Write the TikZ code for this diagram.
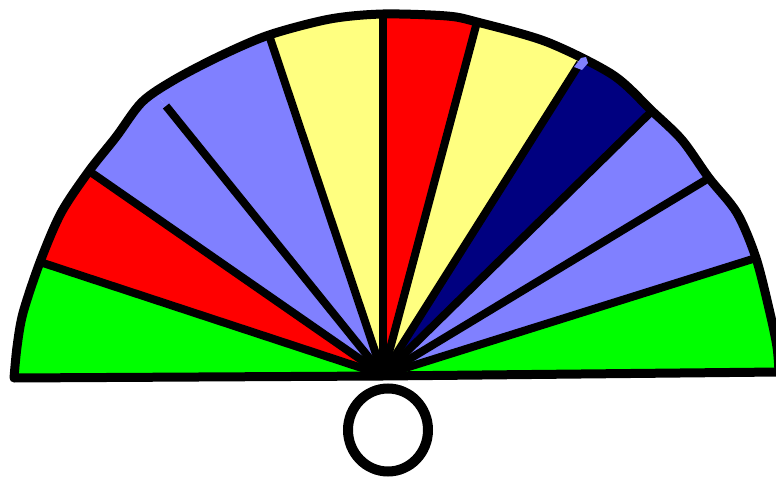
\documentclass[tikz,border=0pt]{standalone}
\usetikzlibrary{calc}
\definecolor{pgreen}{RGB}{0,255,0}
\definecolor{pred}{RGB}{255,0,0}
\definecolor{pblue}{RGB}{128,128,255}
\definecolor{pyellow}{RGB}{255,255,128}
\definecolor{pnavy}{RGB}{0,0,128}
\begin{document}
\begin{tikzpicture}[x=1pt,y=-1pt,
  radial/.style={line width=8pt},
  outline/.style={line width=9pt, line join=round},
  ring/.style={line width=10pt}]
\useasboundingbox (0,0) rectangle (776,478);
\coordinate (C) at (383,375);
\coordinate (L0) at (14,378);
\coordinate (B1) at (40,262);
\coordinate (B2) at (89,171);
\coordinate (B3) at (166,106);
\coordinate (B4) at (269,35);
\coordinate (B5) at (383,14);
\coordinate (B6) at (477,22);
\coordinate (B7) at (580,63);
\coordinate (B8) at (652,111);
\coordinate (B9) at (709,178);
\coordinate (B10) at (756,258);
\coordinate (R0) at (779,372);
\def\arcpath{plot[smooth] coordinates {(14,378) (17,347) (23,313) (40,262) (61,213) (89,171) (116,137) (142,102) (174,80) (220,56) (269,35) (330,19) (383,14) (447,16) (477,22) (547,42) (613,75) (652,111) (682,140) (709,178) (737,213) (756,258) (770,313) (777,347) (779,372)} -- (383,376) -- cycle}
\begin{scope}
\clip \arcpath;
\foreach \a/\b/\c in {L0/B1/pgreen, B1/B2/pred, B2/B3/pblue, B3/B4/pblue, B4/B5/pyellow, B5/B6/pred, B6/B7/pyellow, B7/B8/pnavy, B8/B9/pblue, B9/B10/pblue, B10/R0/pgreen}
  \fill[\c] (C) -- ($(C)!1.8!(\a)$) -- ($(C)!1.8!(\b)$) -- cycle;
\end{scope}
\foreach \b in {B1,B2,B3,B4,B5,B6,B7,B8,B9,B10}
  \draw[radial] (C) -- (\b);
\draw[outline] \arcpath;
\fill[pblue] (574,67) -- (581,58) -- (586,57) -- (588,63) -- (582,70) -- cycle;
\draw[ring] (388,430) ellipse [x radius=40pt, y radius=41.5pt];
\end{tikzpicture}
\end{document}
